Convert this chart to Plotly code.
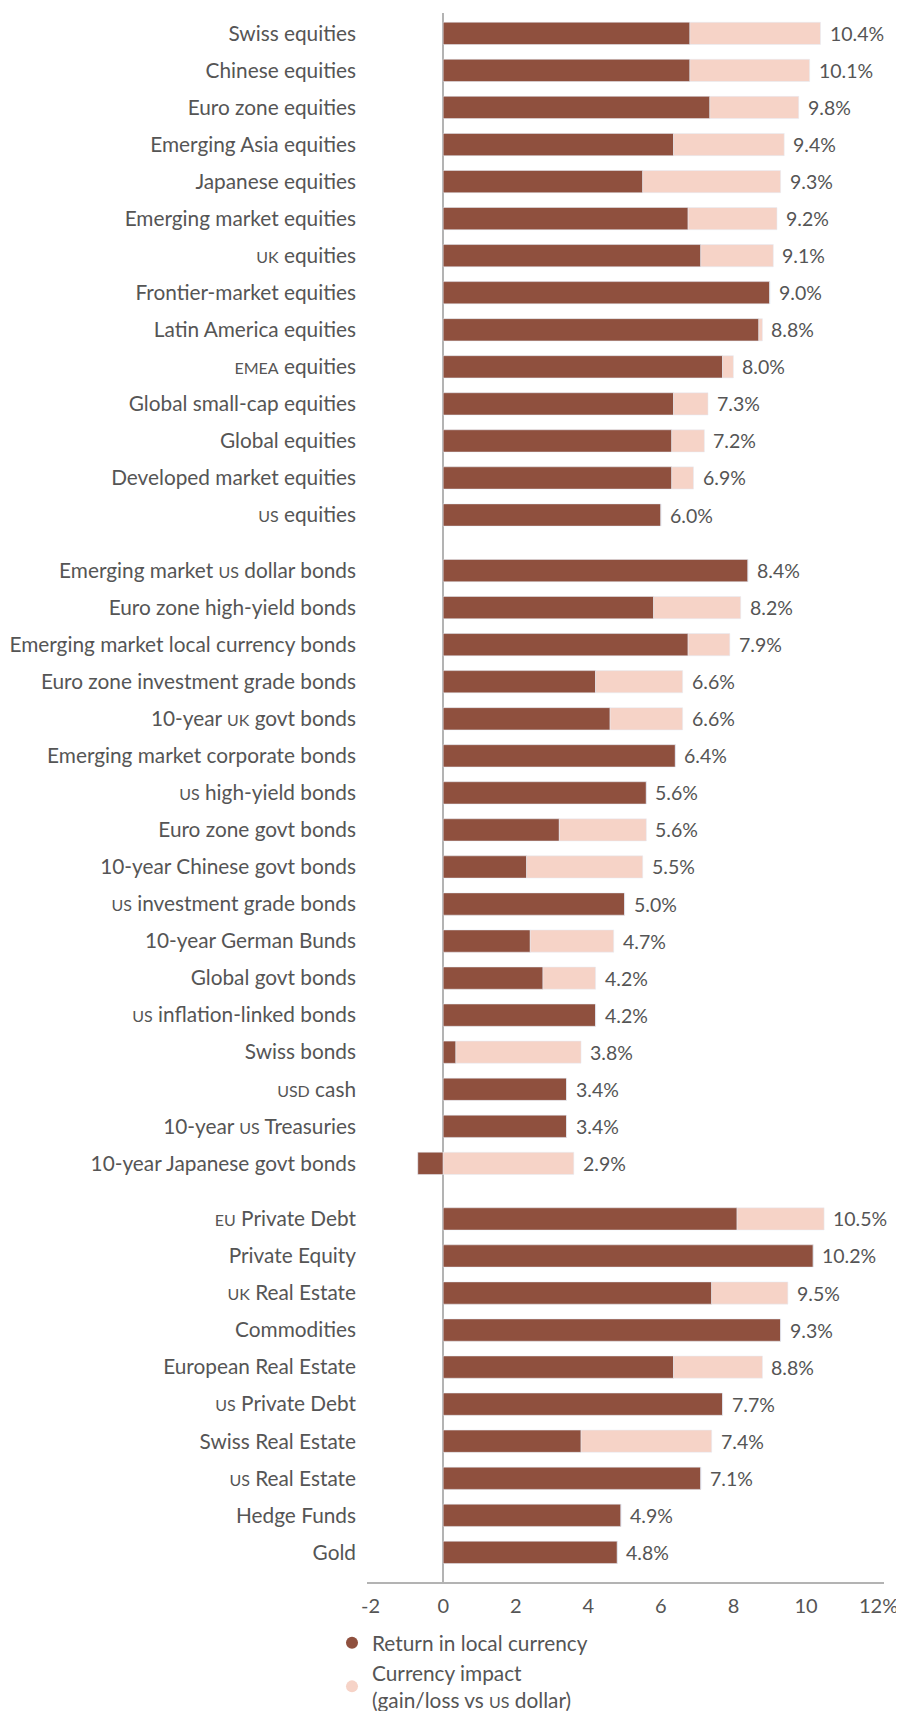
import plotly.graph_objects as go

SC = '<span style="font-size:16px">{}</span>'

# three asset groups, top to bottom
equity_names = [
    'Swiss equities', 'Chinese equities', 'Euro zone equities', 'Emerging Asia equities',
    'Japanese equities', 'Emerging market equities', SC.format('UK') + ' equities',
    'Frontier-market equities', 'Latin America equities', SC.format('EMEA') + ' equities',
    'Global small-cap equities', 'Global equities', 'Developed market equities',
    SC.format('US') + ' equities',
]
equity_local = [6.8, 6.8, 7.35, 6.35, 5.5, 6.75, 7.1, 9.0, 8.7, 7.7, 6.35, 6.3, 6.3, 6.0]
equity_total = [10.4, 10.1, 9.8, 9.4, 9.3, 9.2, 9.1, 9.0, 8.8, 8.0, 7.3, 7.2, 6.9, 6.0]

bond_names = [
    'Emerging market ' + SC.format('US') + ' dollar bonds', 'Euro zone high-yield bonds',
    'Emerging market local currency bonds', 'Euro zone investment grade bonds',
    '10-year ' + SC.format('UK') + ' govt bonds', 'Emerging market corporate bonds',
    SC.format('US') + ' high-yield bonds', 'Euro zone govt bonds', '10-year Chinese govt bonds',
    SC.format('US') + ' investment grade bonds', '10-year German Bunds', 'Global govt bonds',
    SC.format('US') + ' inflation-linked bonds', 'Swiss bonds', SC.format('USD') + ' cash',
    '10-year ' + SC.format('US') + ' Treasuries', '10-year Japanese govt bonds',
]
bond_local = [8.4, 5.8, 6.75, 4.2, 4.6, 6.4, 5.6, 3.2, 2.3, 5.0, 2.4, 2.75, 4.2, 0.35, 3.4, 3.4, -0.7]
bond_total = [8.4, 8.2, 7.9, 6.6, 6.6, 6.4, 5.6, 5.6, 5.5, 5.0, 4.7, 4.2, 4.2, 3.8, 3.4, 3.4, 2.9]

alt_names = [
    SC.format('EU') + ' Private Debt', 'Private Equity', SC.format('UK') + ' Real Estate',
    'Commodities', 'European Real Estate', SC.format('US') + ' Private Debt',
    'Swiss Real Estate', SC.format('US') + ' Real Estate', 'Hedge Funds', 'Gold',
]
alt_local = [8.1, 10.2, 7.4, 9.3, 6.35, 7.7, 3.8, 7.1, 4.9, 4.8]
alt_total = [10.5, 10.2, 9.5, 9.3, 8.8, 7.7, 7.4, 7.1, 4.9, 4.8]

x_ticks = [-2, 0, 2, 4, 6, 8, 10, 12]
x_ticktext = ['-2', '0', '2', '4', '6', '8', '10', '12%']

BROWN = '#8f503e'
PINK = '#f6d3c7'
GREY = '#555555'
FONT = 'Lato'

names, local, total, ypos = [], [], [], []
row = 0.0
for g, (n, l, t) in enumerate([(equity_names, equity_local, equity_total),
                                (bond_names, bond_local, bond_total),
                                (alt_names, alt_local, alt_total)]):
    for i in range(len(n)):
        names.append(n[i])
        local.append(l[i])
        total.append(t[i])
        ypos.append(row)
        row += 1
    row += 0.5

currency = [round(t - l, 2) for t, l in zip(total, local)]

fig = go.Figure()
fig.add_trace(go.Bar(y=ypos, x=local, orientation='h', marker_color=BROWN,
                     width=0.6, showlegend=False))
fig.add_trace(go.Bar(y=ypos, x=currency, orientation='h', marker_color=PINK,
                     width=0.6, showlegend=False))

# value labels at the end of each bar
for y, l, c, t in zip(ypos, local, currency, total):
    end = max(l, 0) + max(c, 0)
    fig.add_annotation(x=end, y=y, text=f'{t:.1f}%', showarrow=False,
                       xanchor='left', xshift=7,
                       font=dict(family=FONT, size=19.5, color=GREY))

# legend entries as round markers
fig.add_trace(go.Scatter(x=[None], y=[None], mode='markers', name='Return in local currency',
                         marker=dict(symbol='circle', size=15, color=BROWN)))
fig.add_trace(go.Scatter(x=[None], y=[None], mode='markers',
                         name='Currency impact<br>(gain/loss vs ' + SC.format('US') + ' dollar)',
                         marker=dict(symbol='circle', size=15, color=PINK)))

# page has an 8px body margin, so the figure is shifted by 8px
fig.update_layout(
    barmode='relative',
    width=896, height=1703,
    margin=dict(l=359, r=20, t=5, b=129, autoexpand=False),
    plot_bgcolor='white', paper_bgcolor='white',
    font=dict(family=FONT, size=20.8, color=GREY),
    xaxis=dict(range=[-2.1, 12.15], tickvals=x_ticks, ticktext=x_ticktext,
               showgrid=False, zeroline=True, zerolinecolor='#b3b3b3', zerolinewidth=1.5,
               showline=True, linecolor='#b3b3b3', linewidth=1.5, ticks='',
               ticklabelstandoff=5, ticklabeloverflow='allow',
               tickfont=dict(size=20, color=GREY)),
    yaxis=dict(range=[41.8, -0.55], tickvals=ypos, ticktext=names, showgrid=False,
               zeroline=False, ticks='', ticklabelstandoff=10,
               tickfont=dict(size=20.8, color=GREY)),
    legend=dict(x=-0.0677, y=-0.026, xanchor='left', yanchor='top', orientation='v',
                font=dict(size=20.8, color=GREY), tracegroupgap=0, itemsizing='constant'),
)

fig.write_html("out.html")
